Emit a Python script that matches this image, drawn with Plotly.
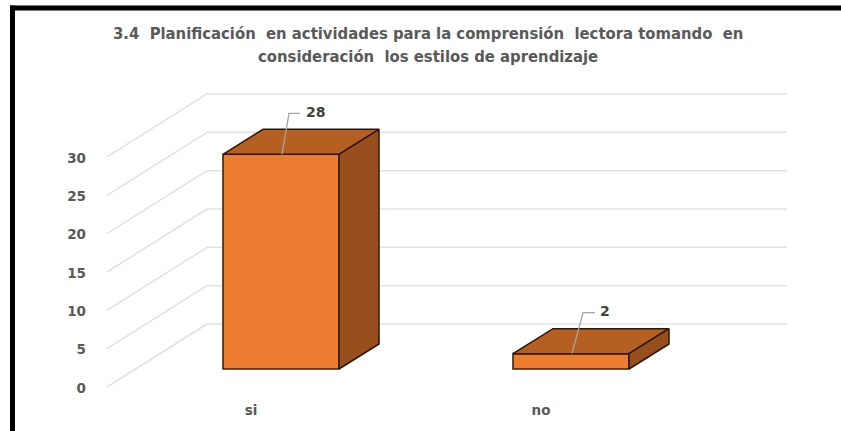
import plotly.graph_objects as go

categories = ["si", "no"]
values = [28, 2]
tick_values = [0, 5, 10, 15, 20, 25, 30]
title_lines = ["3.4  Planificación  en actividades para la comprensión  lectora tomando  en",
               "consideración  los estilos de aprendizaje"]

W, H = 841, 431
L, R, T, B = 107, 787, 20, 400   # plot area in page pixels
PX_PER_UNIT_Y = 7.667
Y0_PX = 369                      # page y of the value 0 at the bar base
SPACING = 290.0                  # px between categories
X0_PX = 281                      # page x of first category

x_rng = [(L - X0_PX) / SPACING, (R - X0_PX) / SPACING]
y_rng = [(Y0_PX - B) / PX_PER_UNIT_Y, (Y0_PX - T) / PX_PER_UNIT_Y]
dx = lambda p: p / SPACING
dy = lambda p: p / PX_PER_UNIT_Y

BAR_W = dx(116)
DX, DY = dx(40), dy(25)          # bar depth
WALL_DX, WALL_DY = dx(100), dy(63)   # side wall depth
SHIFT = dy(18)                   # axis front edge sits below the bar base
LEADER = [(1, 8, 19, 25), (1, 12, 24, 29)]   # leader start, bend, end and label offsets in px

TICK_FONT = dict(family="DejaVu Sans", size=13.5, color="#595959", weight="bold")
TITLE_FONT = dict(family="DejaVu Sans Condensed, DejaVu Sans", size=16.5, color="#595959", weight="bold")

fig = go.Figure()

shapes = []
for t in tick_values:
    y_front = t - SHIFT
    x_front = x_rng[0]
    shapes.append(dict(type="line", xref="x", yref="y", layer="below",
                       x0=x_front, y0=y_front, x1=x_front + WALL_DX, y1=y_front + WALL_DY,
                       line=dict(color="#e2e2e2", width=1.5)))
    shapes.append(dict(type="line", xref="x", yref="y", layer="below",
                       x0=x_front + WALL_DX, y0=y_front + WALL_DY, x1=x_rng[1], y1=y_front + WALL_DY,
                       line=dict(color="#e2e2e2", width=1.5)))

fig.add_trace(go.Bar(x=list(range(len(categories))), y=values, width=BAR_W,
                     marker=dict(color="#ed7d31", line=dict(color="#3c2210", width=1.6)),
                     showlegend=False, hoverinfo="skip"))

for i, v in enumerate(values):
    xl, xr = i - BAR_W / 2, i + BAR_W / 2
    o0, o1, o2, o3 = LEADER[i]
    # top face
    fig.add_trace(go.Scatter(x=[xl, xr, xr + DX, xl + DX, xl], y=[v, v, v + DY, v + DY, v],
                             mode="lines", fill="toself", fillcolor="#b55f22",
                             line=dict(color="#2a1708", width=1.5), showlegend=False, hoverinfo="skip"))
    # side face
    fig.add_trace(go.Scatter(x=[xr, xr + DX, xr + DX, xr, xr], y=[0, DY, v + DY, v, 0],
                             mode="lines", fill="toself", fillcolor="#984f1d",
                             line=dict(color="#2a1708", width=1.5), showlegend=False, hoverinfo="skip"))
    # leader line
    fig.add_trace(go.Scatter(x=[i + dx(o0), i + dx(o1), i + dx(o2)], y=[v, v + dy(41), v + dy(41)],
                             mode="lines", line=dict(color="#a6a6a6", width=1.3),
                             showlegend=False, hoverinfo="skip"))
    # data label
    fig.add_trace(go.Scatter(x=[i + dx(o3)], y=[v + dy(41)], mode="text", text=[str(v)],
                             textposition="middle right",
                             textfont=dict(family="DejaVu Sans", size=14, color="#404040", weight="bold"),
                             showlegend=False, hoverinfo="skip"))

# thick frame, in paper coordinates
frame = [dict(type="line", xref="paper", yref="paper", layer="above",
              x0=(12.5 - L) / (R - L), x1=(12.5 - L) / (R - L),
              y0=(B - H - 2) / (B - T), y1=(B - 5.5) / (B - T),
              line=dict(color="black", width=5)),
         dict(type="line", xref="paper", yref="paper", layer="above",
              x0=(10 - L) / (R - L), x1=(W + 5 - L) / (R - L),
              y0=(B - 8) / (B - T), y1=(B - 8) / (B - T),
              line=dict(color="black", width=5))]

fig.update_layout(
    width=W, height=H, autosize=False,
    margin=dict(l=L, r=W - R, t=T, b=H - B),
    paper_bgcolor="white", plot_bgcolor="white",
    barmode="overlay", shapes=shapes + frame,
    xaxis=dict(range=x_rng, showgrid=False, zeroline=False, showline=False,
               tickmode="array", tickvals=[i - dx(30) for i in range(len(categories))],
               ticktext=categories, ticks="", ticklen=0, ticklabelstandoff=0,
               tickfont=TICK_FONT),
    yaxis=dict(range=y_rng, showgrid=False, zeroline=False, showline=False,
               tickmode="array", tickvals=[t - SHIFT - dy(1) for t in tick_values],
               ticktext=[str(t) for t in tick_values], ticks="", ticklen=0, ticklabelstandoff=20,
               tickfont=TICK_FONT),
    annotations=[dict(xref="paper", yref="paper", x=(428 - L) / (R - L), y=(B - 33) / (B - T),
                      text=title_lines[0], showarrow=False, xanchor="center", yanchor="middle",
                      font=TITLE_FONT),
                 dict(xref="paper", yref="paper", x=(428 - L) / (R - L), y=(B - 57) / (B - T),
                      text=title_lines[1], showarrow=False, xanchor="center", yanchor="middle",
                      font=TITLE_FONT)],
)
fig.write_html("out.html", config=dict(displayModeBar=False),
               post_script="document.body.style.margin='0';document.body.style.overflow='hidden';")
